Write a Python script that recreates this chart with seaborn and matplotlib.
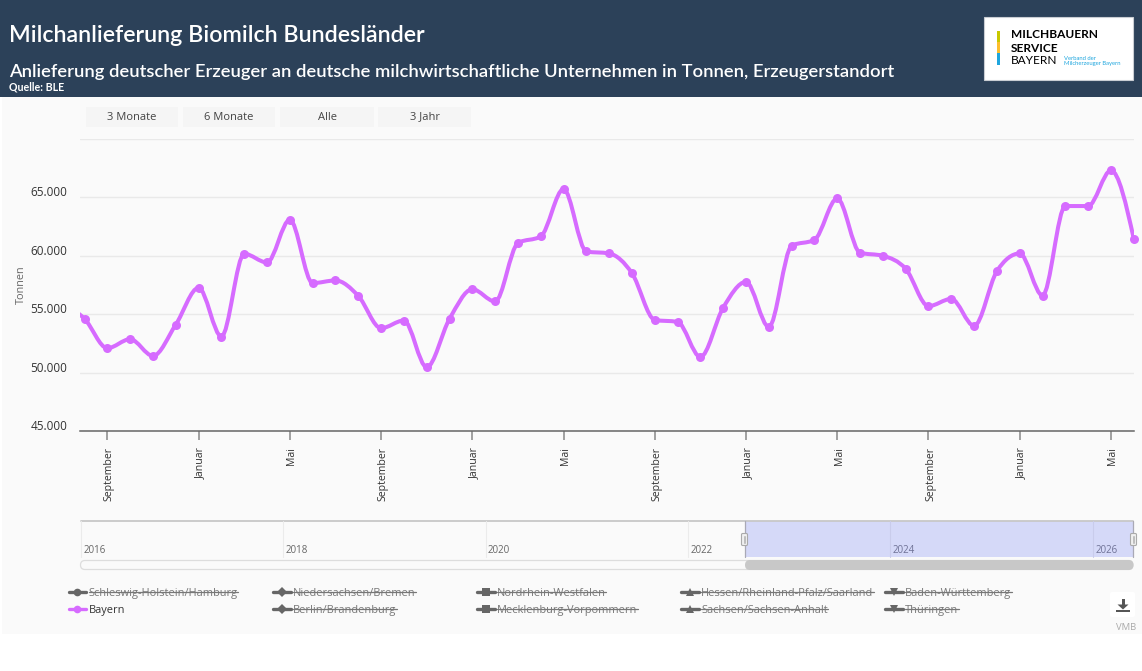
import numpy as np
import pandas as pd
import matplotlib.pyplot as plt
import seaborn as sns
from matplotlib.patches import Rectangle, PathPatch, FancyBboxPatch, Polygon
from matplotlib.path import Path
from matplotlib.transforms import ScaledTranslation

# ------------------------------
# Data
# ------------------------------
months = pd.date_range("2022-08-01", periods=47, freq="MS")
bayern = [
    54600, 52090, 52860, 51430, 54110, 57260, 53090, 60170, 59430, 63090,
    57660, 57890, 56570, 53800, 54460, 50460, 54600, 57140, 56090, 61090,
    61660, 65710, 60370, 60200, 58510, 54510, 54340, 51340, 55570, 57770,
    53910, 60860, 61370, 64910, 60260, 60000, 58890, 55690, 56310, 54000,
    58690, 60200, 56600, 64260, 64260, 67310, 61460,
]
# the month before the window, only seen as the line entering on the left
lead_in = 56000

month_names = {9: "September", 1: "Januar", 5: "Mai"}
y_ticks = [45000, 50000, 55000, 60000, 65000, 70000]
y_labels = ["45.000", "50.000", "55.000", "60.000", "65.000", ""]
slider_years = [2016, 2018, 2020, 2022, 2024, 2026]
buttons = ["3 Monate", "6 Monate", "Alle", "3 Jahr"]
legend_row1 = ["Schleswig-Holstein/Hamburg", "Niedersachsen/Bremen", "Nordrhein-Westfalen",
               "Hessen/Rheinland-Pfalz/Saarland", "Baden-Württemberg"]
legend_row2 = ["Bayern", "Berlin/Brandenburg", "Mecklenburg-Vorpommern",
               "Sachsen/Sachsen-Anhalt", "Thüringen"]

PURPLE = "#D66BFF"
HEADER = "#2C4159"
CHART_FONT = "Open Sans"
TITLE_FONT = "Lato"

sns.set_theme(style="white")
plt.rcParams["font.family"] = [CHART_FONT, "DejaVu Sans"]

fig = plt.figure(figsize=(1142 / 100, 671 / 100), dpi=100, facecolor="white")

# overlay in pixel coordinates for the report page around the chart
page = fig.add_axes([0, 0, 1, 1], zorder=0)
page.set_xlim(0, 1142)
page.set_ylim(671, 0)
page.axis("off")


def box(x0, y0, x1, y1, color, **kwargs):
    page.add_patch(Rectangle((x0, y0), x1 - x0, y1 - y0, facecolor=color, edgecolor=kwargs.pop("edge", "none"), **kwargs))


box(1.5, 97, 1142, 634, "#FAFAFA")
box(0, 0, 1142, 96.5, HEADER)

# header texts
page.text(9, 36, "Milchanlieferung Biomilch Bundesländer", color="white", family=TITLE_FONT,
          fontsize=16.75, fontweight="semibold", va="center")
page.text(9, 71.5, "Anlieferung deutscher Erzeuger an deutsche milchwirtschaftliche Unternehmen in Tonnen, Erzeugerstandort",
          color="white", family=TITLE_FONT, fontsize=13.2, fontweight="semibold", va="center")
page.text(9, 86.5, "Quelle: BLE", color="white", family=TITLE_FONT, fontsize=7.7, fontweight="bold", va="center")

# logo
box(984, 17, 1132.5, 80, "white", edge="#C9CDD3", linewidth=0.8)
box(997, 31, 999.5, 42, "#C8C800")
box(997, 42, 999.5, 53, "#FDBE2C")
box(997, 53, 999.5, 65, "#1FA6DE")
page.text(1011, 35, "MILCHBAUERN", color="black", family=TITLE_FONT, fontsize=8.6, fontweight="bold", va="center")
page.text(1011, 48, "SERVICE", color="black", family=TITLE_FONT, fontsize=8.6, fontweight="bold", va="center")
page.text(1011, 60.5, "BAYERN", color="black", family=TITLE_FONT, fontsize=8.6, va="center")
page.text(1063.5, 58, "Verband der", color="#1FA6DE", family=TITLE_FONT, fontsize=4.2, va="center")
page.text(1063.5, 63, "Milcherzeuger Bayern", color="#1FA6DE", family=TITLE_FONT, fontsize=4.2, va="center")

# range buttons
for label, (x0, x1) in zip(buttons, [(85.5, 178), (183, 275), (280, 374), (378, 471)]):
    box(x0, 107, x1, 127, "#F5F5F5")
    page.text((x0 + x1) / 2, 117, label, color="#444444", fontsize=8, ha="center", va="center")

# range slider below the chart
box(744.5, 521, 1133, 557, "#D5D9F8")
page.plot([80.7, 1133], [521, 521], color="#C8C8C8", lw=1.3)
page.plot([744.5, 744.5], [521, 557], color="#A9A9B5", lw=0.9)
page.plot([1133, 1133], [521, 557], color="#A9A9B5", lw=0.9)
for year in slider_years:
    x = 80.7 + (year - 2016) * 101.2
    inside = x > 744.5
    page.plot([x, x], [521, 557], color="#C9CCEB" if inside else "#EBEBEB", lw=0.8)
    page.text(x + 2.5, 550.5, str(year), color="#6F7296" if inside else "#666666", fontsize=7, va="center")
for x in [744.5, 1133.5]:
    page.add_patch(FancyBboxPatch((x - 3, 533.5), 6, 12, boxstyle="round,pad=0,rounding_size=1.2",
                                  facecolor="#F0F0F0", edgecolor="#AAAAAA", linewidth=0.8, zorder=4))
    page.plot([x - 0.8, x - 0.8], [536, 543], color="#B5B5B5", lw=0.6, zorder=5)
    page.plot([x + 0.8, x + 0.8], [536, 543], color="#B5B5B5", lw=0.6, zorder=5)
page.add_patch(FancyBboxPatch((80.5, 560.5), 1052.5, 9, boxstyle="round,pad=0,rounding_size=4.5",
                              facecolor="#FAFAFA", edgecolor="#DDDDDD", linewidth=0.9))
page.add_patch(FancyBboxPatch((745, 560), 388.5, 10, boxstyle="round,pad=0,rounding_size=5",
                              facecolor="#C8C8C8", edgecolor="none"))

# legend, everything except Bayern is switched off and struck through
legend_x = [68.5, 273, 477, 681, 885]
legend_markers = ["o", "D", "s", "^", "v"]
fig.canvas.draw()
renderer = fig.canvas.get_renderer()
for row_y, row in [(592, legend_row1), (609, legend_row2)]:
    for x, marker, name in zip(legend_x, legend_markers, row):
        active = name == "Bayern"
        color = PURPLE if active else "#666666"
        page.plot([x, x + 17.5], [row_y, row_y], color=color, lw=2.4, solid_capstyle="round")
        page.plot([x + 8.75], [row_y], marker=marker, color=color, ms=5.5, mew=0)
        label = page.text(x + 20.3, row_y + 1.5, name, color="#333333" if active else "#777777", fontsize=7.9, va="center")
        if not active:
            bbox = label.get_window_extent(renderer)
            page.plot([bbox.x0, bbox.x1], [row_y, row_y], color="#777777", lw=0.9)

# download button
page.add_patch(FancyBboxPatch((1110, 592), 25, 25, boxstyle="round,pad=0,rounding_size=2",
                              facecolor="white", edgecolor="none"))
box(1121.5, 599, 1124.5, 605, "#555555")
page.add_patch(Polygon([(1117.5, 604.5), (1128.5, 604.5), (1123, 609.5)], facecolor="#555555", edgecolor="none"))
box(1116, 609.5, 1130, 612, "#555555")
page.text(1126, 627.5, "VMB", color="#AAAAAA", fontsize=6.8, ha="center", va="center")

# ------------------------------
# Chart
# ------------------------------
ax = fig.add_axes([80 / 1142, 1 - 431 / 671, (1134 - 80) / 1142, (431 - 139) / 671], zorder=2)
ax.patch.set_alpha(0)

df = pd.DataFrame({"month": months, "tonnen": bayern})
df["pos"] = np.arange(len(df))

# smooth line: monotone cubic through the months, flat at every peak and dip
xs = np.concatenate([[-1], df["pos"].values]).astype(float)
ys = np.concatenate([[lead_in], df["tonnen"].values]).astype(float)
slopes = np.diff(ys)
tangents = np.zeros(len(ys))
for i in range(1, len(ys) - 1):
    s0, s1 = slopes[i - 1], slopes[i]
    tangents[i] = (np.sign(s0) + np.sign(s1)) * min(abs(s0), abs(s1), 0.25 * abs(s0 + s1))
tangents[0] = (3 * slopes[0] - tangents[1]) / 2
tangents[-1] = (3 * slopes[-1] - tangents[-2]) / 2

vertices = [(xs[0], ys[0])]
codes = [Path.MOVETO]
for i in range(len(xs) - 1):
    vertices += [(xs[i] + 1 / 3, ys[i] + tangents[i] / 3),
                 (xs[i + 1] - 1 / 3, ys[i + 1] - tangents[i + 1] / 3),
                 (xs[i + 1], ys[i + 1])]
    codes += [Path.CURVE4, Path.CURVE4, Path.CURVE4]
ax.add_patch(PathPatch(Path(vertices, codes), facecolor="none", edgecolor=PURPLE, linewidth=2.9, capstyle="round", zorder=3))

sns.scatterplot(data=df, x="pos", y="tonnen", color=PURPLE, s=42, linewidth=0, ax=ax, zorder=4, clip_on=False)

ax.set_xlim(-0.2, 46.01)
ax.set_ylim(45000, 70000)
ax.set_xlabel("")
ax.set_ylabel("")

ax.set_yticks(y_ticks)
ax.set_yticklabels(y_labels, fontsize=8.5, color="#333333")
ax.tick_params(axis="y", length=0, pad=9)
ax.grid(axis="y", color="#E9E9E9", linewidth=1.0)
ax.set_axisbelow(True)

# x axis: a tick every four months
tick_rows = df[df["month"].dt.month.isin(month_names)]
ax.set_xticks(tick_rows["pos"].values)
ax.set_xticklabels([month_names[m] for m in tick_rows["month"].dt.month], rotation=90, fontsize=7.6, color="#333333")
ax.tick_params(axis="x", bottom=True, length=6.5, width=1.1, color="#888888", pad=4.8)

# y labels sit just above their grid lines, x labels a little right of the ticks
# (has to come after tick_params, which resets the label transforms)
for tick_label in ax.get_yticklabels():
    tick_label.set_transform(tick_label.get_transform() + ScaledTranslation(0, 0.06, fig.dpi_scale_trans))
for tick_label in ax.get_xticklabels():
    tick_label.set_transform(tick_label.get_transform() + ScaledTranslation(0.02, 0, fig.dpi_scale_trans))

sns.despine(ax=ax, left=True)
ax.spines["bottom"].set_color("#666666")
ax.spines["bottom"].set_linewidth(1.1)

page.text(21.5, 285, "Tonnen", color="#666666", fontsize=7.8, rotation=90, ha="center", va="center")

fig.savefig("out.png", dpi=100, facecolor=fig.get_facecolor())
plt.close(fig)
